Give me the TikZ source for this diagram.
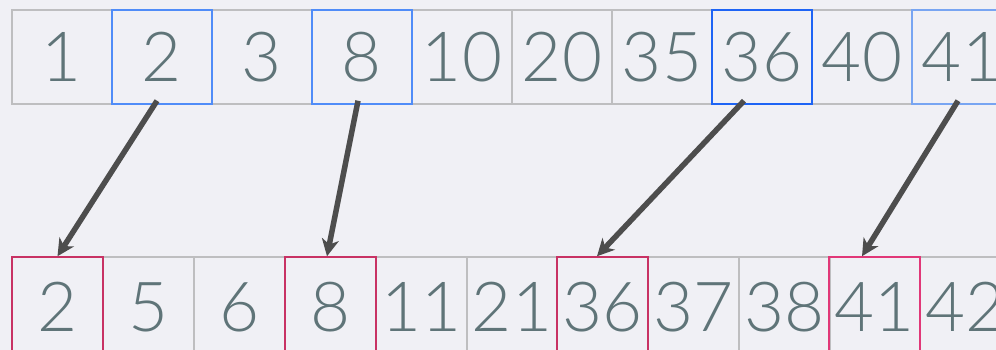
\documentclass[tikz,border=0pt]{standalone}
\usepackage{fontspec}
\setmainfont{Lato Light}
\usetikzlibrary{arrows.meta}
\definecolor{bg}{RGB}{240,240,245}
\definecolor{cellgray}{RGB}{190,190,192}
\definecolor{digit}{RGB}{95,116,120}
\definecolor{blueA}{RGB}{80,140,248}
\definecolor{blueB}{RGB}{30,100,245}
\definecolor{blueC}{RGB}{120,165,242}
\definecolor{pinkA}{RGB}{200,50,100}
\definecolor{pinkB}{RGB}{225,55,120}
\definecolor{arrowc}{RGB}{77,77,77}
\tikzset{
  cellbase/.style={draw=cellgray, line width=1.5pt, inner sep=0pt, text=digit,
    font=\fontsize{69}{69}\selectfont},
  topcell/.style={cellbase, minimum width=100pt, minimum height=94pt},
  botcell/.style={cellbase, minimum width=91pt, minimum height=100pt},
  hlblue/.style={draw=blueA},
  hlbluestrong/.style={draw=blueB},
  hlbluelight/.style={draw=blueC},
  hlpink/.style={draw=pinkA},
  hlpinkb/.style={draw=pinkB},
  arr/.style={draw=arrowc, line width=5.5pt, -{Stealth[length=17pt,width=17pt,inset=5pt]}}
}
\begin{document}
\begin{tikzpicture}[x=1pt,y=-1pt]
\useasboundingbox (0,0) rectangle (996,350);
\clip (0,0) rectangle (996,350);
\fill[bg] (0,0) rectangle (996,350);
% top row (gray cells)
\node[topcell] (t1) at (62,57) {1};
\node[topcell] (t3) at (262,57) {3};
\node[topcell] (t5) at (462,57) {10};
\node[topcell] (t6) at (562,57) {20};
\node[topcell] (t7) at (662,57) {35};
\node[topcell] (t9) at (862,57) {40};
% top row (highlighted)
\node[topcell,hlblue] (t2) at (162,57) {2};
\node[topcell,hlblue] (t4) at (362,57) {8};
\node[topcell,hlbluestrong] (t8) at (762,57) {36};
\node[topcell,hlbluelight] (t10) at (962,57) {41};
% bottom row (gray cells)
\node[botcell] (b2) at (148.5,307) {5};
\node[botcell] (b3) at (239.5,307) {6};
\node[botcell] (b5) at (421.5,307) {11};
\node[botcell] (b6) at (512,307) {21};
\node[botcell] (b8) at (693.5,307) {37};
\node[botcell] (b9) at (784.5,307) {38};
\node[botcell] (b11) at (965.5,307) {42};
% bottom row (highlighted)
\node[botcell,hlpink] (b1) at (57.5,307) {2};
\node[botcell,hlpink] (b4) at (330.5,307) {8};
\node[botcell,hlpink] (b7) at (602.5,307) {36};
\node[botcell,hlpinkb] (b10) at (874.5,307) {41};
% arrows
\draw[arr] ([xshift=-5pt,yshift=4pt]t2.south) -- (b1.north);
\draw[arr] ([xshift=-4pt,yshift=4pt]t4.south) -- ([xshift=-3.5pt]b4.north);
\draw[arr] ([xshift=-18pt,yshift=4pt]t8.south) -- ([xshift=-5.5pt]b7.north);
\draw[arr] ([xshift=-4pt,yshift=4pt]t10.south) -- ([xshift=-12.5pt]b10.north);
\end{tikzpicture}
\end{document}
